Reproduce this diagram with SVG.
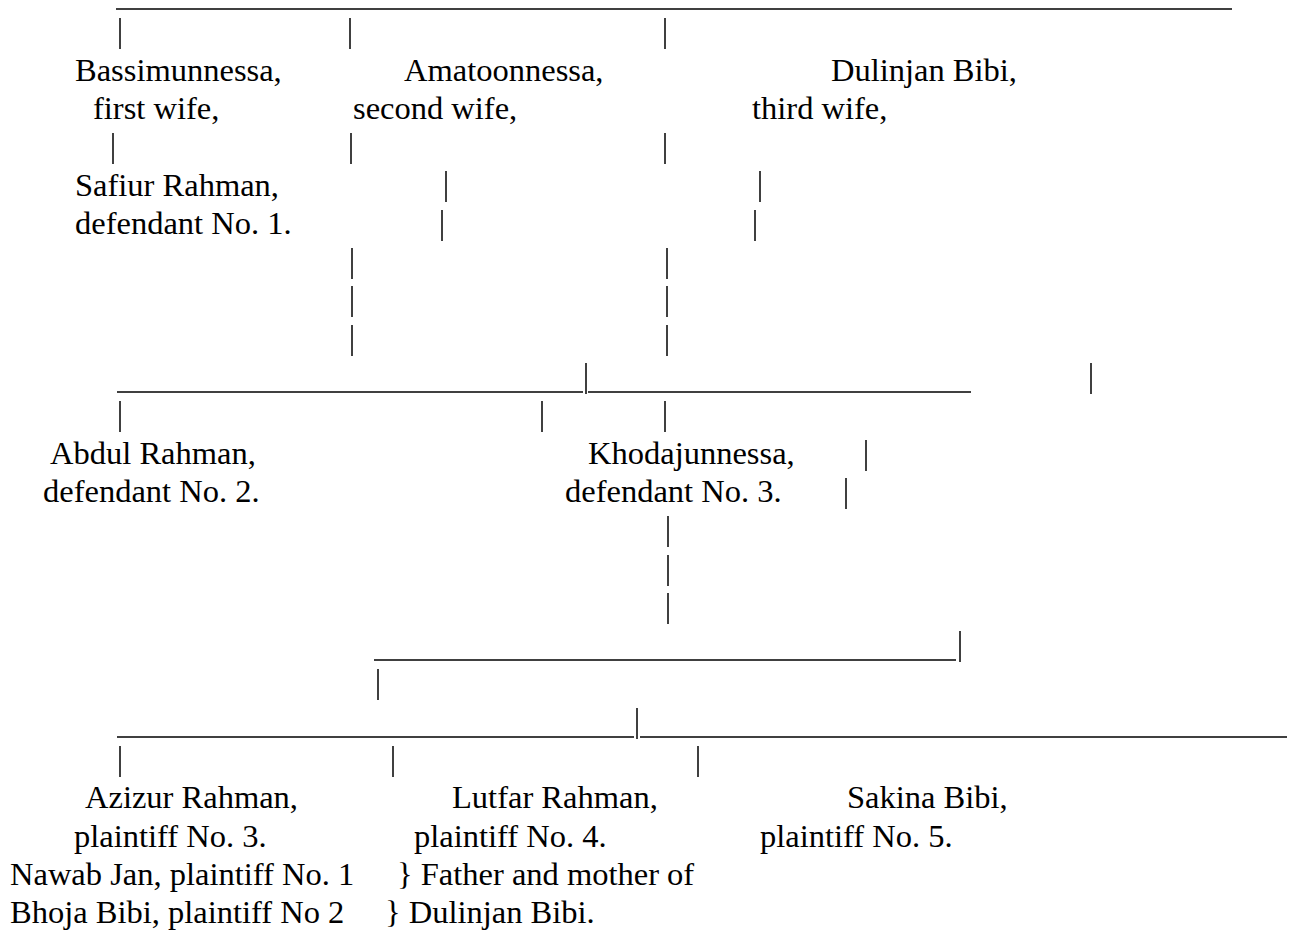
<svg xmlns="http://www.w3.org/2000/svg" width="1292" height="933" viewBox="0 0 1292 933">
<style>
  text { font-family: "Liberation Serif", "Times New Roman", serif; font-size: 32.5px; fill: #000; }
  .c line { stroke: #000; stroke-width: 1.5; }
</style>
<rect width="1292" height="933" fill="#fff"/>
<g id="connectors" class="c">
  <line x1="116" y1="9" x2="1232" y2="9"/>
  <line x1="120" y1="18" x2="120" y2="49"/>
  <line x1="350" y1="18" x2="350" y2="49"/>
  <line x1="665" y1="18" x2="665" y2="49"/>
  <line x1="113" y1="133" x2="113" y2="164"/>
  <line x1="351" y1="133" x2="351" y2="164"/>
  <line x1="665" y1="133" x2="665" y2="164"/>
  <line x1="446" y1="171" x2="446" y2="202"/>
  <line x1="760" y1="171" x2="760" y2="202"/>
  <line x1="442" y1="210" x2="442" y2="241"/>
  <line x1="755" y1="210" x2="755" y2="241"/>
  <line x1="352" y1="248" x2="352" y2="279"/>
  <line x1="667" y1="248" x2="667" y2="279"/>
  <line x1="352" y1="286" x2="352" y2="317"/>
  <line x1="667" y1="286" x2="667" y2="317"/>
  <line x1="352" y1="325" x2="352" y2="356"/>
  <line x1="667" y1="325" x2="667" y2="356"/>
  <line x1="117" y1="392" x2="583" y2="392"/>
  <line x1="586" y1="363" x2="586" y2="394"/>
  <line x1="588" y1="392" x2="971" y2="392"/>
  <line x1="1091" y1="363" x2="1091" y2="394"/>
  <line x1="120" y1="401" x2="120" y2="432"/>
  <line x1="542" y1="401" x2="542" y2="432"/>
  <line x1="665" y1="401" x2="665" y2="432"/>
  <line x1="866" y1="440" x2="866" y2="471"/>
  <line x1="846" y1="478" x2="846" y2="509"/>
  <line x1="668" y1="516" x2="668" y2="547"/>
  <line x1="668" y1="555" x2="668" y2="586"/>
  <line x1="668" y1="593" x2="668" y2="624"/>
  <line x1="374" y1="660" x2="956" y2="660"/>
  <line x1="960" y1="631" x2="960" y2="662"/>
  <line x1="378" y1="669" x2="378" y2="700"/>
  <line x1="117" y1="737" x2="634" y2="737"/>
  <line x1="637" y1="708" x2="637" y2="739"/>
  <line x1="640" y1="737" x2="1287" y2="737"/>
  <line x1="120" y1="746" x2="120" y2="777"/>
  <line x1="393" y1="746" x2="393" y2="777"/>
  <line x1="698" y1="746" x2="698" y2="777"/>
</g>
<g id="bassimunnessa"><text x="75" y="80.6">Bassimunnessa,</text><text x="93" y="118.9">first wife,</text></g>
<g id="amatoonnessa"><text x="404" y="80.6">Amatoonnessa,</text><text x="353" y="118.9">second wife,</text></g>
<g id="dulinjan"><text x="831" y="80.6">Dulinjan Bibi,</text><text x="752" y="118.9">third wife,</text></g>
<g id="safiur"><text x="75" y="195.5">Safiur Rahman,</text><text x="75" y="233.8">defendant No. 1.</text></g>
<g id="abdul"><text x="50" y="463.6">Abdul Rahman,</text><text x="43" y="501.9">defendant No. 2.</text></g>
<g id="khodajunnessa"><text x="588" y="463.6">Khodajunnessa,</text><text x="565" y="501.9">defendant No. 3.</text></g>
<g id="azizur"><text x="85" y="808.3">Azizur Rahman,</text><text x="74" y="846.6">plaintiff No. 3.</text></g>
<g id="lutfar"><text x="452" y="808.3">Lutfar Rahman,</text><text x="414" y="846.6">plaintiff No. 4.</text></g>
<g id="sakina"><text x="847" y="808.3">Sakina Bibi,</text><text x="760" y="846.6">plaintiff No. 5.</text></g>
<g id="parents">
  <text x="10" y="884.9">Nawab Jan, plaintiff No. 1</text>
  <text x="397" y="884.9">} Father and mother of</text>
  <text x="10" y="923.2">Bhoja Bibi, plaintiff No 2</text>
  <text x="385" y="923.2">} Dulinjan Bibi.</text>
</g>
</svg>
